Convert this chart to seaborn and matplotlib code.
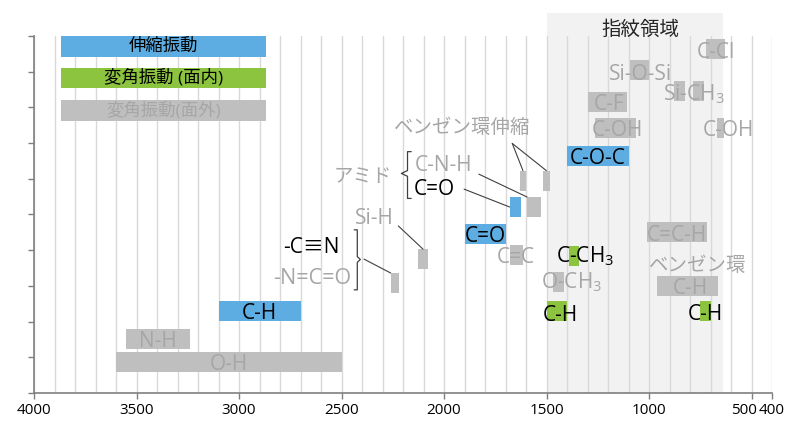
import numpy as np
import pandas as pd
import matplotlib
matplotlib.use('Agg')
import matplotlib.pyplot as plt
import matplotlib.transforms as mtransforms
from matplotlib.patches import Rectangle
import seaborn as sns

# IR absorption bands (wavenumber, cm-1) and row on the chart
band_names = ['O-H', 'N-H', 'C-H str', 'C≡N/N=C=O', 'Si-H', 'C=O', 'C=C',
              'amide C=O', 'amide C-N-H', 'ring str 1', 'ring str 2', 'C-O-C',
              'C-CH3', 'O-CH3', 'C-H bend', 'C=C-H', 'ring C-H', 'C-H oop',
              'C-Cl', 'Si-O-Si', 'Si-CH3 a', 'Si-CH3 b', 'C-F', 'C-OH', 'C-OH oop']
band_hi = [3600, 3550, 3100, 2260, 2125, 1900, 1680,
           1680, 1595, 1630, 1518, 1400,
           1390, 1470, 1500, 1012, 963, 750,
           723, 1095, 880, 785, 1300, 1263, 670]
band_lo = [2500, 3240, 2700, 2220, 2080, 1700, 1615,
           1625, 1525, 1600, 1484, 1100,
           1340, 1415, 1400, 715, 662, 700,
           629, 1000, 825, 730, 1105, 1063, 634]
band_row = [0.87, 1.51, 2.30, 3.08, 3.75, 4.46, 3.87,
            5.21, 5.21, 5.95, 5.95, 6.65,
            3.85, 3.12, 2.31, 4.50, 3.01, 2.31,
            9.63, 9.05, 8.46, 8.46, 8.16, 7.41, 7.41]
band_kind = ['oop', 'oop', 'str', 'oop', 'oop', 'str', 'oop',
             'str', 'oop', 'oop', 'oop', 'str',
             'inp', 'oop', 'inp', 'oop', 'oop', 'inp',
             'oop', 'oop', 'oop', 'oop', 'oop', 'oop', 'oop']

# legend bars
legend_kind = ['str', 'inp', 'oop']
legend_text = ['伸縮振動', '変角振動 (面内)', '変角振動(面外)']
legend_row = [9.71, 8.82, 7.91]
legend_hi, legend_lo = 3870, 2870

finger_hi, finger_lo = 1500, 640

x_ticks = [4000, 3500, 3000, 2500, 2000, 1500, 1000, 500, 400]

df = pd.DataFrame({'name': band_names, 'hi': band_hi, 'lo': band_lo,
                   'row': band_row, 'kind': band_kind})

colors = {'str': '#5dade2', 'inp': '#8cc43f', 'oop': '#bfbfbf'}
BLACK = '#000000'
GRAY = '#a6a6a6'
BAR_H = 0.56

sns.set_theme(style='white')
plt.rcParams['font.family'] = ['Open Sans', 'Noto Sans CJK JP', 'DejaVu Sans']
plt.rcParams['mathtext.fontset'] = 'custom'
plt.rcParams['mathtext.rm'] = 'Open Sans'
plt.rcParams['mathtext.it'] = 'Open Sans:italic'

fig = plt.figure(figsize=(8, 4.33), dpi=100)
ax = fig.add_axes([0.0425, 0.0924, 0.9225, 0.8245])

# fingerprint region shading
ax.add_patch(Rectangle((finger_lo, 0), finger_hi - finger_lo, 10.64,
                       facecolor='#f2f2f2', edgecolor='none', zorder=0.1, clip_on=False))

# band bars
ax.barh(df['row'], df['hi'] - df['lo'], left=df['lo'], height=BAR_H,
        color=[colors[k] for k in df['kind']], edgecolor='none', linewidth=0, zorder=2)

# legend bars
ax.barh(legend_row, legend_hi - legend_lo, left=legend_lo, height=0.58,
        color=[colors[k] for k in legend_kind], edgecolor='none', linewidth=0, zorder=2)
for t, r, k in zip(legend_text, legend_row, legend_kind):
    ax.text((legend_hi + legend_lo) / 2, r, t, ha='center', va='center',
            fontsize=12.5, color=GRAY if k == 'oop' else BLACK, zorder=3)

ax.text(1040, 10.17, '指紋領域', ha='center', va='center', fontsize=14,
        color='#262626', clip_on=False)

# band labels: text, x, y, color, ha, size
labels = [
    ('O-H', 3050, 0.87, GRAY, 'center', 15),
    ('N-H', 3395, 1.51, GRAY, 'center', 15),
    ('C-H', 2900, 2.30, BLACK, 'center', 15),
    ('-C≡N', 2645, 4.15, BLACK, 'center', 15),
    ('-N=C=O', 2645, 3.29, GRAY, 'center', 15.5),
    ('Si-H', 2342, 4.96, GRAY, 'center', 15),
    ('アミド', 2394, 6.11, GRAY, 'center', 14),
    ('C-N-H', 2142, 6.43, GRAY, 'left', 15),
    ('C=O', 2147, 5.76, BLACK, 'left', 15),
    ('ベンゼン環伸縮', 1911, 7.48, GRAY, 'center', 14),
    ('C=O', 1800, 4.44, BLACK, 'center', 15),
    ('C=C', 1650, 3.87, GRAY, 'center', 15),
    ('C-CH$_3$', 1455, 3.91, BLACK, 'left', 15),
    ('O-CH$_3$', 1525, 3.17, GRAY, 'left', 15),
    ('C-H', 1430, 2.23, BLACK, 'center', 15),
    ('C=C-H', 865, 4.49, GRAY, 'center', 15),
    ('ベンゼン環', 762, 3.63, GRAY, 'center', 14),
    ('C-H', 796, 3.00, GRAY, 'center', 15),
    ('C-H', 726, 2.28, BLACK, 'center', 15),
    ('C-Cl', 676, 9.61, GRAY, 'center', 15),
    ('Si-O-Si', 1043, 9.00, GRAY, 'center', 15),
    ('Si-CH$_3$', 930, 8.44, GRAY, 'left', 15),
    ('C-F', 1195, 8.16, GRAY, 'center', 15),
    ('C-OH', 1154, 7.41, GRAY, 'center', 15),
    ('C-OH', 740, 7.41, GRAY, 'left', 15),
    ('C-O-C', 1250, 6.65, BLACK, 'center', 15),
]
for t, x, y, c, ha, s in labels:
    ax.text(x, y, t, ha=ha, va='center_baseline', fontsize=s, color=c, zorder=3)

# leader lines: start point, target band, anchor on that band
def anchor(name, where):
    b = df[df['name'] == name].iloc[0]
    if where == 'topleft':
        return b['hi'], b['row'] + BAR_H / 2
    if where == 'left':
        return b['hi'], b['row']
    return (b['hi'] + b['lo']) / 2, b['row'] + BAR_H / 2

leaders = [
    (2390, 3.75, 'C≡N/N=C=O', 'topleft'),
    (2223, 4.68, 'Si-H', 'top'),
    (1830, 6.13, 'amide C-N-H', 'topleft'),
    (1902, 5.71, 'amide C=O', 'left'),
    (1667, 6.99, 'ring str 1', 'top'),
    (1667, 6.99, 'ring str 2', 'top'),
]
for x0, y0, name, where in leaders:
    x1, y1 = anchor(name, where)
    ax.plot([x0, x1], [y0, y1], color='#404040', lw=0.8, zorder=3)

# braces
def brace(x, y_top, y_bot, y_mid, tip, serif):
    xs = [x + serif, x, x, x + tip, x, x, x + serif]
    ys = [y_top, y_top, y_mid + 0.08, y_mid, y_mid - 0.08, y_bot, y_bot]
    ax.plot(xs, ys, color='#404040', lw=0.9, zorder=3)

brace(2423, 4.57, 2.89, 3.74, -15, 15)
brace(2178, 6.76, 5.45, 6.15, 30, -18)

ax.set_xlim(4000, 400)
ax.set_ylim(0, 10)
ax.set_xticks(x_ticks)
ax.set_xticks(np.arange(400, 4001, 100), minor=True)
ax.set_yticks(np.arange(0, 11, 1))
ax.set_yticklabels([])
ax.set_axisbelow(True)
ax.grid(False)
ax.xaxis.grid(True, which='both', color='#d9d9d9', lw=1.0)
ax.tick_params(axis='x', which='major', direction='out', length=4, width=1,
               color='#7f7f7f', labelsize=11, labelcolor='black', pad=3, bottom=True)
ax.tick_params(axis='x', which='minor', length=0)
ax.tick_params(axis='y', which='major', direction='out', length=4, width=1,
               color='#7f7f7f', left=True)
sns.despine(ax=ax)
for s in ['left', 'bottom']:
    ax.spines[s].set_color('#7f7f7f')
    ax.spines[s].set_linewidth(1.2)

# nudge the "500" label left so it sits next to "400" like the original
fig.canvas.draw()
shift = mtransforms.ScaledTranslation(-0.08, 0, fig.dpi_scale_trans)
for tick in ax.xaxis.get_major_ticks():
    if tick.get_loc() == 500:
        tick.label1.set_transform(tick.label1.get_transform() + shift)

fig.savefig('out.png', dpi=100)
